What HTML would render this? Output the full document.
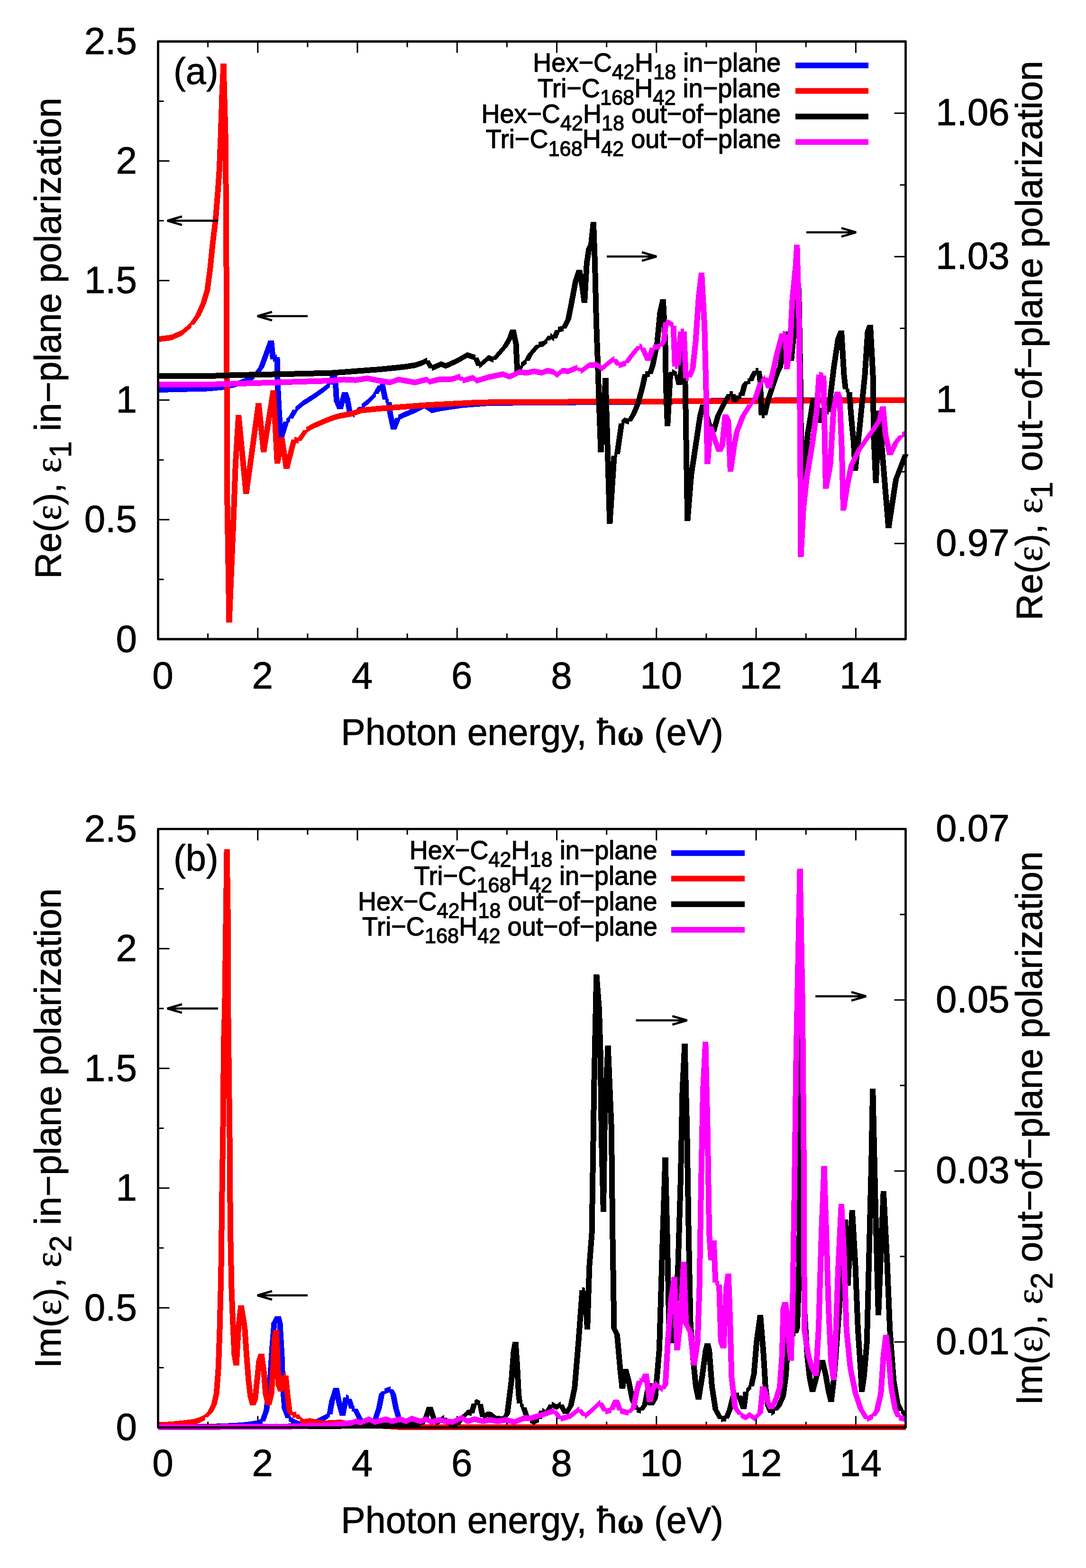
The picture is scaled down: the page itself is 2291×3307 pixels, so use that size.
<!DOCTYPE html><html><head><meta charset="utf-8"><style>html,body{margin:0;padding:0;background:#fff;}svg{display:block;}text{font-family:"Liberation Sans", Arial, Helvetica, sans-serif;fill:#000;stroke:#000;stroke-width:0.9px;}text.lg{stroke-width:1.3px;}</style></head><body>
<svg xmlns="http://www.w3.org/2000/svg" width="2291" height="3307" viewBox="0 0 2291 3307">
<rect width="2291" height="3307" fill="#fff"/>
<path d="M438.6 1348L438.6 1336 M438.6 87.5L438.6 99.5 M543.8 1348L543.8 1324 M543.8 87.5L543.8 111.5 M648.9 1348L648.9 1336 M648.9 87.5L648.9 99.5 M754 1348L754 1324 M754 87.5L754 111.5 M859.2 1348L859.2 1336 M859.2 87.5L859.2 99.5 M964.3 1348L964.3 1324 M964.3 87.5L964.3 111.5 M1069.4 1348L1069.4 1336 M1069.4 87.5L1069.4 99.5 M1174.6 1348L1174.6 1324 M1174.6 87.5L1174.6 111.5 M1279.7 1348L1279.7 1336 M1279.7 87.5L1279.7 99.5 M1384.8 1348L1384.8 1324 M1384.8 87.5L1384.8 111.5 M1490 1348L1490 1336 M1490 87.5L1490 99.5 M1595.1 1348L1595.1 1324 M1595.1 87.5L1595.1 111.5 M1700.2 1348L1700.2 1336 M1700.2 87.5L1700.2 99.5 M1805.4 1348L1805.4 1324 M1805.4 87.5L1805.4 111.5 M333.5 1222L345.5 1222 M333.5 1095.9L357.5 1095.9 M333.5 969.9L345.5 969.9 M333.5 843.8L357.5 843.8 M333.5 717.8L345.5 717.8 M333.5 591.7L357.5 591.7 M333.5 465.6L345.5 465.6 M333.5 339.6L357.5 339.6 M333.5 213.5L345.5 213.5 M1910.5 1146.3L1886.5 1146.3 M1910.5 995.1L1898.5 995.1 M1910.5 843.8L1886.5 843.8 M1910.5 692.5L1898.5 692.5 M1910.5 541.3L1886.5 541.3 M1910.5 390L1898.5 390 M1910.5 238.8L1886.5 238.8" stroke="#000" stroke-width="3" fill="none"/>
<clipPath id="clipa"><rect x="327.5" y="81.5" width="1589.0" height="1272.5"/></clipPath>
<g clip-path="url(#clipa)">
<path d="M333.5 816L440 813.4L440 825.4L333.5 828ZM440 813.4L467.8 810.7L467.8 822.7L440 825.4ZM467.8 810.7L495.6 805L495.6 817L467.8 822.7ZM495.6 805L523.3 795.4L523.3 807.4L495.6 817ZM523.3 795.4L537.2 787L537.2 799L523.3 807.4ZM531.2 793L545.1 775L557.1 775L543.2 793ZM545.1 775L553.4 752.8L565.4 752.8L557.1 775ZM553.4 752.8L566 717.9L578 717.9L565.4 752.8ZM578 717.9L582 758L570 758L566 717.9ZM576 752L584.4 746.8L584.4 758.8L576 764ZM590.4 752.8L591.8 811L579.8 811L578.4 752.8ZM591.8 811L594.6 866.7L582.6 866.7L579.8 811ZM594.6 866.7L598.8 925.4L586.8 925.4L582.6 866.7ZM586.8 925.4L597.9 888.9L609.9 888.9L598.8 925.4ZM603.9 882.9L612.2 877.3L612.2 889.3L603.9 894.9ZM606.2 883.3L617.3 863.9L629.3 863.9L618.2 883.3ZM623.3 857.9L640 844L640 856L623.3 869.9ZM640 844L662.2 830L662.2 842L640 856ZM662.2 830L681.7 816.2L681.7 828.2L662.2 842ZM681.7 816.2L695.6 805L695.6 817L681.7 828.2ZM689.6 811L697.9 788.4L709.9 788.4L701.6 811ZM709.9 788.4L713.5 800.4L701.5 800.4L697.9 788.4ZM713.5 800.4L716 845.5L704 845.5L701.5 800.4ZM716 845.5L723.5 863L711.5 863L704 845.5ZM711.5 863L721.6 826.7L733.6 826.7L723.5 863ZM733.6 826.7L738.6 840.5L726.6 840.5L721.6 826.7ZM738.6 840.5L743.6 868L731.6 868L726.6 840.5ZM737.6 862L747.6 868.6L747.6 880.6L737.6 874ZM741.6 874.6L756.7 858L768.7 858L753.6 874.6ZM762.7 852L775.2 842L775.2 854L762.7 864ZM775.2 842L792.7 824.5L792.7 836.5L775.2 854ZM786.7 830.5L796.8 812.9L808.8 812.9L798.7 830.5ZM802.8 806.9L806.5 804.4L806.5 816.4L802.8 818.9ZM812.5 810.4L818.8 843L806.8 843L800.5 810.4ZM812.8 837L820.3 842L820.3 854L812.8 849ZM826.3 848L828.8 870.5L816.8 870.5L814.3 848ZM828.8 870.5L836.3 905.6L824.3 905.6L816.8 870.5ZM824.3 905.6L834.4 880.6L846.4 880.6L836.3 905.6ZM840.4 874.6L850.4 869.6L850.4 881.6L840.4 886.6ZM850.4 869.6L875.4 859.5L875.4 871.5L850.4 881.6ZM875.4 859.5L895.5 849.5L895.5 861.5L875.4 871.5ZM895.5 849.5L910.5 859.5L910.5 871.5L895.5 861.5ZM910.5 859.5L925.6 855.8L925.6 867.8L910.5 871.5ZM925.6 855.8L950.6 852L950.6 864L925.6 867.8ZM950.6 852L975.7 848.3L975.7 860.3L950.6 864ZM975.7 848.3L1025.8 844.5L1025.8 856.5L975.7 860.3ZM1025.8 844.5L1100 843.2L1100 855.2L1025.8 856.5ZM1100 843.2L1300 842L1300 854L1100 855.2ZM1300 842L1500 839.5L1500 851.5L1300 854ZM1500 839.5L1700 838L1700 850L1500 851.5ZM1700 838L1910.5 837.5L1910.5 849.5L1700 850Z" fill="#0000ff" shape-rendering="crispEdges"/>
<path d="M333.5 709.5L361.2 706L361.2 718L333.5 721.5ZM361.2 706L383.8 696.1L383.8 708.1L361.2 718ZM383.8 696.1L403.5 679.2L403.5 691.2L383.8 708.1ZM397.5 685.2L411.6 665.5L423.6 665.5L409.5 685.2ZM411.6 665.5L422.9 640L434.9 640L423.6 665.5ZM422.9 640L431.4 611.9L443.4 611.9L434.9 640ZM431.4 611.9L437 569.6L449 569.6L443.4 611.9ZM437 569.6L442.7 513.1L454.7 513.1L449 569.6ZM442.7 513.1L448.9 462.4L460.9 462.4L454.7 513.1ZM448.9 462.4L453.9 400.3L465.9 400.3L460.9 462.4ZM453.9 400.3L456.8 358L468.8 358L465.9 400.3ZM456.8 358L459.6 287.5L471.6 287.5L468.8 358ZM459.6 287.5L462.4 202.8L474.4 202.8L471.6 287.5ZM462.4 202.8L465.5 134L477.5 134L474.4 202.8ZM477.5 134L482 300L470 300L465.5 134ZM482 300L484.3 700L472.3 700L470 300ZM484.3 700L485 1033L473 1033L472.3 700ZM485 1033L489.5 1313L477.5 1313L473 1033ZM477.5 1313L486.8 1088.9L498.8 1088.9L489.5 1313ZM486.8 1088.9L490.9 977.8L502.9 977.8L498.8 1088.9ZM490.9 977.8L497.3 875.4L509.3 875.4L502.9 977.8ZM509.3 875.4L525.2 1042.4L513.2 1042.4L497.3 875.4ZM513.2 1042.4L539.6 849.8L551.6 849.8L525.2 1042.4ZM551.6 849.8L562.1 953.5L550.1 953.5L539.6 849.8ZM550.1 953.5L570.7 823.4L582.7 823.4L562.1 953.5ZM582.7 823.4L591 977.9L579 977.9L570.7 823.4ZM579 977.9L588.2 922L600.2 922L591 977.9ZM600.2 922L610.4 989L598.4 989L588.2 922ZM598.4 989L614.6 926.7L626.6 926.7L610.4 989ZM620.6 920.7L630 924L630 936L620.6 932.7ZM624 930L639.6 907L651.6 907L636 930ZM645.6 901L662.2 891.8L662.2 903.8L645.6 913ZM662.2 891.8L690 880L690 892L662.2 903.8ZM690 880L700 876L700 888L690 892ZM700 876L717 871L717 883L700 888ZM717 871L740 867L740 879L717 883ZM740 867L762.7 859.5L762.7 871.5L740 879ZM762.7 859.5L800.3 855.8L800.3 867.8L762.7 871.5ZM800.3 855.8L850.4 852L850.4 864L800.3 867.8ZM850.4 852L900.5 848.3L900.5 860.3L850.4 864ZM900.5 848.3L950.6 845.8L950.6 857.8L900.5 860.3ZM950.6 845.8L1000.8 843.2L1000.8 855.2L950.6 857.8ZM1000.8 843.2L1050.9 842L1050.9 854L1000.8 855.2ZM1050.9 842L1100 842L1100 854L1050.9 854ZM1100 842L1300 841L1300 853L1100 854ZM1300 841L1500 840L1500 852L1300 853ZM1500 840L1700 839L1700 851L1500 852ZM1700 839L1910.5 838L1910.5 850L1700 851Z" fill="#ff0000" shape-rendering="crispEdges"/>
<path d="M333.5 787L440 787L440 799L333.5 799ZM440 787L500 785L500 797L440 799ZM500 785L600 783L600 795L500 797ZM600 783L700 780.6L700 792.6L600 795ZM700 780.6L750.1 776.8L750.1 788.8L700 792.6ZM750.1 776.8L800.3 773.1L800.3 785.1L750.1 788.8ZM800.3 773.1L850.4 768L850.4 780L800.3 785.1ZM850.4 768L875.4 764.3L875.4 776.3L850.4 780ZM875.4 764.3L890.5 759.3L890.5 771.3L875.4 776.3ZM890.5 759.3L900.5 754.3L900.5 766.3L890.5 771.3ZM906.5 760.3L916.5 776.6L904.5 776.6L894.5 760.3ZM910.5 770.6L930.6 762L930.6 774L910.5 782.6ZM930.6 762L940.6 765.8L940.6 777.8L930.6 774ZM940.6 765.8L965.7 754.3L965.7 766.3L940.6 777.8ZM965.7 754.3L985.7 742.7L985.7 754.7L965.7 766.3ZM985.7 742.7L998.2 746.8L998.2 758.8L985.7 754.7ZM998.2 746.8L1003.3 748L1003.3 760L998.2 758.8ZM1009.3 754L1016.8 771.8L1004.8 771.8L997.3 754ZM1010.8 765.8L1030.8 748.5L1030.8 760.5L1010.8 777.8ZM1030.8 748.5L1040.9 752.8L1040.9 764.8L1030.8 760.5ZM1034.9 758.8L1059.9 730.2L1071.9 730.2L1046.9 758.8ZM1059.9 730.2L1069.9 712.7L1081.9 712.7L1071.9 730.2ZM1069.9 712.7L1076.2 694.6L1088.2 694.6L1081.9 712.7ZM1088.2 694.6L1094.5 725.2L1082.5 725.2L1076.2 694.6ZM1094.5 725.2L1097.5 788L1085.5 788L1082.5 725.2ZM1085.5 788L1092.8 770.6L1104.8 770.6L1097.5 788ZM1098.8 764.6L1111.3 755.3L1111.3 767.3L1098.8 776.6ZM1105.3 761.3L1111.5 748.8L1123.5 748.8L1117.3 761.3ZM1111.5 748.8L1130.3 726.9L1142.3 726.9L1123.5 748.8ZM1136.3 720.9L1145.6 719.3L1145.6 731.3L1136.3 732.9ZM1145.6 719.3L1155 711.5L1155 723.5L1145.6 731.3ZM1149 717.5L1155.3 708.1L1167.3 708.1L1161 717.5ZM1161.3 702.1L1169 708.4L1169 720.4L1161.3 714.1ZM1163 714.4L1170.9 695.6L1182.9 695.6L1175 714.4ZM1176.9 689.6L1183 688L1183 700L1176.9 701.6ZM1183 688L1189.4 686.5L1189.4 698.5L1183 700ZM1183.4 692.5L1192.8 673.8L1204.8 673.8L1195.4 692.5ZM1192.8 673.8L1199 642.5L1211 642.5L1204.8 673.8ZM1199 642.5L1208.4 592.5L1220.4 592.5L1211 642.5ZM1208.4 592.5L1216.2 569L1228.2 569L1220.4 592.5ZM1228.2 569L1234.4 605L1222.4 605L1216.2 569ZM1234.4 605L1239 639.4L1227 639.4L1222.4 605ZM1227 639.4L1231.8 555L1243.8 555L1239 639.4ZM1231.8 555L1236.5 523.8L1248.5 523.8L1243.8 555ZM1236.5 523.8L1241.2 514.4L1253.2 514.4L1248.5 523.8ZM1241.2 514.4L1245.9 468L1257.9 468L1253.2 514.4ZM1257.9 468L1261 555L1249 555L1245.9 468ZM1261 555L1264 680L1252 680L1249 555ZM1264 680L1267.3 773.8L1255.3 773.8L1252 680ZM1267.3 773.8L1270.4 867.5L1258.4 867.5L1255.3 773.8ZM1270.4 867.5L1273.5 953.5L1261.5 953.5L1258.4 867.5ZM1261.5 953.5L1271.5 797.1L1283.5 797.1L1273.5 953.5ZM1283.5 797.1L1292.3 1105L1280.3 1105L1271.5 797.1ZM1280.3 1105L1289.6 961.3L1301.6 961.3L1292.3 1105ZM1295.6 955.3L1301.9 952L1301.9 964L1295.6 967.3ZM1295.9 958L1305.3 892.5L1317.3 892.5L1307.9 958ZM1311.3 886.5L1317.5 880.3L1317.5 892.3L1311.3 898.5ZM1317.5 880.3L1326.9 883.4L1326.9 895.4L1317.5 892.3ZM1320.9 889.4L1330.3 873.8L1342.3 873.8L1332.9 889.4ZM1330.3 873.8L1339.6 851.9L1351.6 851.9L1342.3 873.8ZM1339.6 851.9L1349 817.5L1361 817.5L1351.6 851.9ZM1349 817.5L1355.3 789.4L1367.3 789.4L1361 817.5ZM1361.3 783.4L1370.6 783.4L1370.6 795.4L1361.3 795.4ZM1364.6 789.4L1370.9 770.6L1382.9 770.6L1376.6 789.4ZM1370.9 770.6L1380.3 723.8L1392.3 723.8L1382.9 770.6ZM1380.3 723.8L1386.5 658.8L1398.5 658.8L1392.3 723.8ZM1386.5 658.8L1392.8 631.2L1404.8 631.2L1398.5 658.8ZM1404.8 631.2L1409.4 721.3L1397.4 721.3L1392.8 631.2ZM1409.4 721.3L1411 815L1399 815L1397.4 721.3ZM1411 815L1414.1 899.4L1402.1 899.4L1399 815ZM1402.1 899.4L1408 790L1420 790L1414.1 899.4ZM1408 790L1412 784L1424 784L1420 790ZM1418 778L1428 784L1428 796L1418 790ZM1434 790L1439 812L1427 812L1422 790ZM1427 812L1431 780L1443 780L1439 812ZM1431 780L1434 715L1446 715L1443 780ZM1440 709L1443 706L1443 718L1440 721ZM1449 712L1452 830L1440 830L1437 712ZM1452 830L1454 960L1442 960L1440 830ZM1454 960L1456.3 1099.4L1444.3 1099.4L1442 960ZM1444.3 1099.4L1452.1 1002.5L1464.1 1002.5L1456.3 1099.4ZM1452.1 1002.5L1461.5 940L1473.5 940L1464.1 1002.5ZM1461.5 940L1470.9 877.5L1482.9 877.5L1473.5 940ZM1470.9 877.5L1477.1 852.8L1489.1 852.8L1482.9 877.5ZM1489.1 852.8L1501.6 893.1L1489.6 893.1L1477.1 852.8ZM1501.6 893.1L1511 911.6L1499 911.6L1489.6 893.1ZM1499 911.6L1508.4 877.5L1520.4 877.5L1511 911.6ZM1508.4 877.5L1520.9 852.5L1532.9 852.5L1520.4 877.5ZM1520.9 852.5L1533.4 830.6L1545.4 830.6L1532.9 852.5ZM1539.4 824.6L1545.6 824.6L1545.6 836.6L1539.4 836.6ZM1551.6 830.6L1556.3 847.6L1544.3 847.6L1539.6 830.6ZM1544.3 847.6L1552.1 833.8L1564.1 833.8L1556.3 847.6ZM1558.1 827.8L1564.4 829.3L1564.4 841.3L1558.1 839.8ZM1558.4 835.3L1564.6 811.9L1576.6 811.9L1570.4 835.3ZM1564.6 811.9L1570.9 804L1582.9 804L1576.6 811.9ZM1576.9 798L1583.1 798L1583.1 810L1576.9 810ZM1577.1 804L1581.8 793.1L1593.8 793.1L1589.1 804ZM1581.8 793.1L1588.1 782.2L1600.1 782.2L1593.8 793.1ZM1594.1 776.2L1600.3 776.2L1600.3 788.2L1594.1 788.2ZM1606.3 782.2L1609.4 799.4L1597.4 799.4L1594.3 782.2ZM1609.4 799.4L1612.6 875.9L1600.6 875.9L1597.4 799.4ZM1606.6 869.9L1612.8 869.9L1612.8 881.9L1606.6 881.9ZM1606.8 875.9L1614.6 843.1L1626.6 843.1L1618.8 875.9ZM1614.6 843.1L1624 815L1636 815L1626.6 843.1ZM1624 815L1633.4 786.9L1645.4 786.9L1636 815ZM1633.4 786.9L1639.6 774.4L1651.6 774.4L1645.4 786.9ZM1639.6 774.4L1653.9 699.4L1665.9 699.4L1651.6 774.4ZM1665.9 699.4L1675.2 760.7L1663.2 760.7L1653.9 699.4ZM1663.2 760.7L1671.5 670.2L1683.5 670.2L1675.2 760.7ZM1671.5 670.2L1679 608L1691 608L1683.5 670.2ZM1691 608L1694.5 800L1682.5 800L1679 608ZM1694.5 800L1697 1028L1685 1028L1682.5 800ZM1685 1028L1698.4 911.8L1710.4 911.8L1697 1028ZM1698.4 911.8L1710.2 840.1L1722.2 840.1L1710.4 911.8ZM1722.2 840.1L1733.5 892.3L1721.5 892.3L1710.2 840.1ZM1721.5 892.3L1729 860L1741 860L1733.5 892.3ZM1735 854L1747.8 862.8L1747.8 874.8L1735 866ZM1741.8 868.8L1752.8 776.9L1764.8 776.9L1753.8 868.8ZM1752.8 776.9L1762.1 714.4L1774.1 714.4L1764.8 776.9ZM1762.1 714.4L1769 697.1L1781 697.1L1774.1 714.4ZM1781 697.1L1786.6 792.5L1774.6 792.5L1769 697.1ZM1786.6 792.5L1789.8 820.6L1777.8 820.6L1774.6 792.5ZM1783.8 814.6L1791.6 820.9L1791.6 832.9L1783.8 826.6ZM1797.6 826.9L1802.3 886.3L1790.3 886.3L1785.6 826.9ZM1802.3 886.3L1806.9 933.1L1794.9 933.1L1790.3 886.3ZM1806.9 933.1L1810.1 992.6L1798.1 992.6L1794.9 933.1ZM1798.1 992.6L1809 886.3L1821 886.3L1810.1 992.6ZM1809 886.3L1818.4 792.5L1830.4 792.5L1821 886.3ZM1818.4 792.5L1824.6 698.8L1836.6 698.8L1830.4 792.5ZM1824.6 698.8L1829.9 684.6L1841.9 684.6L1836.6 698.8ZM1841.9 684.6L1847.6 792.5L1835.6 792.5L1829.9 684.6ZM1847.6 792.5L1849.1 917.5L1837.1 917.5L1835.6 792.5ZM1849.1 917.5L1853.8 1019.1L1841.8 1019.1L1837.1 917.5ZM1841.8 1019.1L1848 866L1860 866L1853.8 1019.1ZM1860 866L1880.4 1114.4L1868.4 1114.4L1848 866ZM1868.4 1114.4L1884 1011.3L1896 1011.3L1880.4 1114.4ZM1884 1011.3L1904.5 958L1916.5 958L1896 1011.3Z" fill="#000000" shape-rendering="crispEdges"/>
<path d="M333.5 805L440 805L440 817L333.5 817ZM440 805L600 800L600 812L440 817ZM600 800L700 796.9L700 808.9L600 812ZM700 796.9L725 794.4L725 806.4L700 808.9ZM725 794.4L750.1 795.6L750.1 807.6L725 806.4ZM750.1 795.6L775.2 791.9L775.2 803.9L750.1 807.6ZM775.2 791.9L800.3 796.9L800.3 808.9L775.2 803.9ZM800.3 796.9L822.8 800.6L822.8 812.6L800.3 808.9ZM822.8 800.6L840.4 794.4L840.4 806.4L822.8 812.6ZM840.4 794.4L875.4 800.6L875.4 812.6L840.4 806.4ZM875.4 800.6L900.5 794.4L900.5 806.4L875.4 812.6ZM900.5 794.4L905.5 799.4L905.5 811.4L900.5 806.4ZM905.5 799.4L925.6 794.4L925.6 806.4L905.5 811.4ZM925.6 794.4L950.6 794.4L950.6 806.4L925.6 806.4ZM950.6 794.4L970.7 788.1L970.7 800.1L950.6 806.4ZM976.7 794.1L981.7 802.9L969.7 802.9L964.7 794.1ZM975.7 796.9L998.2 790.6L998.2 802.6L975.7 808.9ZM998.2 790.6L1005.8 796.9L1005.8 808.9L998.2 802.6ZM1005.8 796.9L1030.8 789.4L1030.8 801.4L1005.8 808.9ZM1030.8 789.4L1060.9 783.1L1060.9 795.1L1030.8 801.4ZM1060.9 783.1L1073.4 788.1L1073.4 800.1L1060.9 795.1ZM1073.4 788.1L1080 786.5L1080 798.5L1073.4 800.1ZM1080 786.5L1095.6 778.7L1095.6 790.7L1080 798.5ZM1095.6 778.7L1111.3 780.3L1111.3 792.3L1095.6 790.7ZM1111.3 780.3L1126.9 777.1L1126.9 789.1L1111.3 792.3ZM1126.9 777.1L1142.5 780.3L1142.5 792.3L1126.9 789.1ZM1142.5 780.3L1155 775.6L1155 787.6L1142.5 792.3ZM1155 775.6L1167.5 778.7L1167.5 790.7L1155 787.6ZM1167.5 778.7L1175.3 784.9L1175.3 796.9L1167.5 790.7ZM1175.3 784.9L1186.3 775.6L1186.3 787.6L1175.3 796.9ZM1186.3 775.6L1198.8 777.1L1198.8 789.1L1186.3 787.6ZM1198.8 777.1L1217.5 769.3L1217.5 781.3L1198.8 789.1ZM1223.5 775.3L1231.3 783.1L1219.3 783.1L1211.5 775.3ZM1225.3 777.1L1242.5 764.6L1242.5 776.6L1225.3 789.1ZM1242.5 764.6L1258.1 763.1L1258.1 775.1L1242.5 776.6ZM1258.1 763.1L1270.6 770.9L1270.6 782.9L1258.1 775.1ZM1270.6 770.9L1283.1 759.9L1283.1 771.9L1270.6 782.9ZM1283.1 759.9L1295.6 750.6L1295.6 762.6L1283.1 771.9ZM1301.6 756.6L1311 770.6L1299 770.6L1289.6 756.6ZM1305 764.6L1320.6 759.9L1320.6 771.9L1305 776.6ZM1314.6 765.9L1327.1 748.8L1339.1 748.8L1326.6 765.9ZM1327.1 748.8L1342.8 730L1354.8 730L1339.1 748.8ZM1348.8 724L1355 727.1L1355 739.1L1348.8 736ZM1361 733.1L1373.5 761L1361.5 761L1349 733.1ZM1361.5 761L1370.9 733.1L1382.9 733.1L1373.5 761ZM1376.9 727.1L1392.5 724.6L1392.5 736.6L1376.9 739.1ZM1386.5 730.6L1394.3 721.3L1406.3 721.3L1398.5 730.6ZM1394.3 721.3L1399 678.8L1411 678.8L1406.3 721.3ZM1405 672.8L1411.3 674.6L1411.3 686.6L1405 684.8ZM1411.3 674.6L1420.6 680.9L1420.6 692.9L1411.3 686.6ZM1426.6 686.9L1429.8 773.1L1417.8 773.1L1414.6 686.9ZM1423.8 767.1L1430 765.3L1430 777.3L1423.8 779.1ZM1424 771.3L1430.3 699L1442.3 699L1436 771.3ZM1436.3 693L1442.5 693L1442.5 705L1436.3 705ZM1448.5 699L1453.2 798.1L1441.2 798.1L1436.5 699ZM1447.2 792.1L1453.4 790.3L1453.4 802.3L1447.2 804.1ZM1447.4 796.3L1455.3 777.5L1467.3 777.5L1459.4 796.3ZM1455.3 777.5L1461.5 721.3L1473.5 721.3L1467.3 777.5ZM1461.5 721.3L1467.8 627.5L1479.8 627.5L1473.5 721.3ZM1467.8 627.5L1474 574.9L1486 574.9L1479.8 627.5ZM1486 574.9L1492.3 690L1480.3 690L1474 574.9ZM1492.3 690L1495.4 815L1483.4 815L1480.3 690ZM1495.4 815L1496.9 908.8L1484.9 908.8L1483.4 815ZM1496.9 908.8L1498.5 979.1L1486.5 979.1L1484.9 908.8ZM1486.5 979.1L1492.8 899.3L1504.8 899.3L1498.5 979.1ZM1504.8 899.3L1514.1 927.5L1502.1 927.5L1492.8 899.3ZM1514.1 927.5L1523.5 952.9L1511.5 952.9L1502.1 927.5ZM1511.5 952.9L1517.8 940L1529.8 940L1523.5 952.9ZM1517.8 940L1524 874.3L1536 874.3L1529.8 940ZM1536 874.3L1542.3 886.9L1530.3 886.9L1524 874.3ZM1542.3 886.9L1546.9 994.8L1534.9 994.8L1530.3 886.9ZM1534.9 994.8L1542.8 940L1554.8 940L1546.9 994.8ZM1542.8 940L1549 908.8L1561 908.8L1554.8 940ZM1549 908.8L1561.5 877.5L1573.5 877.5L1561 908.8ZM1561.5 877.5L1577.1 852.5L1589.1 852.5L1573.5 877.5ZM1583.1 846.5L1592.5 837.1L1592.5 849.1L1583.1 858.5ZM1586.5 843.1L1599 805.6L1611 805.6L1598.5 843.1ZM1605 799.6L1614.4 790.3L1614.4 802.3L1605 811.6ZM1620.4 796.3L1628.2 819.4L1616.2 819.4L1608.4 796.3ZM1616.2 819.4L1624 786.9L1636 786.9L1628.2 819.4ZM1624 786.9L1632.8 747.6L1644.8 747.6L1636 786.9ZM1632.8 747.6L1644.5 703.3L1656.5 703.3L1644.8 747.6ZM1650.5 697.3L1657.5 699.4L1657.5 711.4L1650.5 709.3ZM1663.5 705.4L1665.9 779.2L1653.9 779.2L1651.5 705.4ZM1653.9 779.2L1660.9 724.2L1672.9 724.2L1665.9 779.2ZM1660.9 724.2L1665.6 630.4L1677.6 630.4L1672.9 724.2ZM1665.6 630.4L1672.6 560L1684.6 560L1677.6 630.4ZM1672.6 560L1675.3 515.9L1687.3 515.9L1684.6 560ZM1687.3 515.9L1691.7 677.3L1679.7 677.3L1675.3 515.9ZM1691.7 677.3L1692.8 794.5L1680.8 794.5L1679.7 677.3ZM1692.8 794.5L1694 911.8L1682 911.8L1680.8 794.5ZM1694 911.8L1695.4 1175.4L1683.4 1175.4L1682 911.8ZM1683.4 1175.4L1688.7 1073.8L1700.7 1073.8L1695.4 1175.4ZM1688.7 1073.8L1696.1 1005.6L1708.1 1005.6L1700.7 1073.8ZM1696.1 1005.6L1707.8 935.2L1719.8 935.2L1708.1 1005.6ZM1707.8 935.2L1717.2 864.9L1729.2 864.9L1719.8 935.2ZM1717.2 864.9L1721.9 790L1733.9 790L1729.2 864.9ZM1727.9 784L1737.3 786.2L1737.3 798.2L1727.9 796ZM1743.3 792.2L1745.6 911.8L1733.6 911.8L1731.3 792.2ZM1745.6 911.8L1748 1031.3L1736 1031.3L1733.6 911.8ZM1736 1031.3L1745.3 982.1L1757.3 982.1L1748 1031.3ZM1745.3 982.1L1752.4 864.9L1764.4 864.9L1757.3 982.1ZM1752.4 864.9L1760.6 826.2L1772.6 826.2L1764.4 864.9ZM1772.6 826.2L1777.3 839.4L1765.3 839.4L1760.6 826.2ZM1777.3 839.4L1781.9 948.8L1769.9 948.8L1765.3 839.4ZM1781.9 948.8L1785.1 1076.9L1773.1 1076.9L1769.9 948.8ZM1773.1 1076.9L1780.9 1026.9L1792.9 1026.9L1785.1 1076.9ZM1780.9 1026.9L1790.3 980L1802.3 980L1792.9 1026.9ZM1790.3 980L1805.9 948.8L1817.9 948.8L1802.3 980ZM1805.9 948.8L1821.5 926.9L1833.5 926.9L1817.9 948.8ZM1821.5 926.9L1837.1 905L1849.1 905L1833.5 926.9ZM1837.1 905L1849.6 886.3L1861.6 886.3L1849.1 905ZM1849.6 886.3L1856.5 856.5L1868.5 856.5L1861.6 886.3ZM1868.5 856.5L1874.1 917.5L1862.1 917.5L1856.5 856.5ZM1874.1 917.5L1883.5 959.8L1871.5 959.8L1862.1 917.5ZM1871.5 959.8L1884 933.1L1896 933.1L1883.5 959.8ZM1884 933.1L1896.5 917.5L1908.5 917.5L1896 933.1ZM1902.5 911.5L1910.5 908L1910.5 920L1902.5 923.5Z" fill="#ff00ff" shape-rendering="crispEdges"/>
</g>
<rect x="333.5" y="87.5" width="1577.0" height="1260.5" fill="none" stroke="#000" stroke-width="4.8" stroke-linejoin="round"/>
<text x="289" y="1374.5" font-size="80" text-anchor="end" >0</text>
<text x="289" y="1122.4" font-size="80" text-anchor="end" >0.5</text>
<text x="289" y="870.3" font-size="80" text-anchor="end" >1</text>
<text x="289" y="618.2" font-size="80" text-anchor="end" >1.5</text>
<text x="289" y="366.1" font-size="80" text-anchor="end" >2</text>
<text x="289" y="114" font-size="80" text-anchor="end" >2.5</text>
<text x="343.5" y="1451.5" font-size="80" text-anchor="middle" >0</text>
<text x="553.8" y="1451.5" font-size="80" text-anchor="middle" >2</text>
<text x="764" y="1451.5" font-size="80" text-anchor="middle" >4</text>
<text x="974.3" y="1451.5" font-size="80" text-anchor="middle" >6</text>
<text x="1184.6" y="1451.5" font-size="80" text-anchor="middle" >8</text>
<text x="1394.8" y="1451.5" font-size="80" text-anchor="middle" >10</text>
<text x="1605.1" y="1451.5" font-size="80" text-anchor="middle" >12</text>
<text x="1815.4" y="1451.5" font-size="80" text-anchor="middle" >14</text>
<text x="1974" y="1171.8" font-size="80" text-anchor="start" >0.97</text>
<text x="1974" y="869.3" font-size="80" text-anchor="start" >1</text>
<text x="1974" y="566.8" font-size="80" text-anchor="start" >1.03</text>
<text x="1974" y="264.3" font-size="80" text-anchor="start" >1.06</text>
<text transform="translate(719.26 1570.5) scale(0.9909 1)" font-size="78" xml:space="preserve">Photon energy, ħ<tspan font-family='"Liberation Serif", "Times New Roman", serif' font-weight="bold">ω</tspan> (eV)</text>
<text transform="translate(128 1220.47) rotate(-90) scale(0.9797 1)" font-size="78" xml:space="preserve">Re(<tspan font-family='"Liberation Serif", "Times New Roman", serif'>ε</tspan>), <tspan font-family='"Liberation Serif", "Times New Roman", serif'>ε</tspan><tspan font-size="64" dy="22">1</tspan><tspan dy="-22"> in−plane polarization</tspan></text>
<text transform="translate(2198 1308.52) rotate(-90) scale(0.9890 1)" font-size="78" xml:space="preserve">Re(<tspan font-family='"Liberation Serif", "Times New Roman", serif'>ε</tspan>), <tspan font-family='"Liberation Serif", "Times New Roman", serif'>ε</tspan><tspan font-size="64" dy="22">1</tspan><tspan dy="-22"> out−of−plane polarization</tspan></text>
<text x="366" y="176.5" font-size="77.5" text-anchor="start" >(a)</text>
<path d="M438.6 3010.6L438.6 2998.6 M438.6 1748.4L438.6 1760.4 M543.8 3010.6L543.8 2986.6 M543.8 1748.4L543.8 1772.4 M648.9 3010.6L648.9 2998.6 M648.9 1748.4L648.9 1760.4 M754 3010.6L754 2986.6 M754 1748.4L754 1772.4 M859.2 3010.6L859.2 2998.6 M859.2 1748.4L859.2 1760.4 M964.3 3010.6L964.3 2986.6 M964.3 1748.4L964.3 1772.4 M1069.4 3010.6L1069.4 2998.6 M1069.4 1748.4L1069.4 1760.4 M1174.6 3010.6L1174.6 2986.6 M1174.6 1748.4L1174.6 1772.4 M1279.7 3010.6L1279.7 2998.6 M1279.7 1748.4L1279.7 1760.4 M1384.8 3010.6L1384.8 2986.6 M1384.8 1748.4L1384.8 1772.4 M1490 3010.6L1490 2998.6 M1490 1748.4L1490 1760.4 M1595.1 3010.6L1595.1 2986.6 M1595.1 1748.4L1595.1 1772.4 M1700.2 3010.6L1700.2 2998.6 M1700.2 1748.4L1700.2 1760.4 M1805.4 3010.6L1805.4 2986.6 M1805.4 1748.4L1805.4 1772.4 M333.5 2884.4L345.5 2884.4 M333.5 2758.2L357.5 2758.2 M333.5 2631.9L345.5 2631.9 M333.5 2505.7L357.5 2505.7 M333.5 2379.5L345.5 2379.5 M333.5 2253.3L357.5 2253.3 M333.5 2127.1L345.5 2127.1 M333.5 2000.8L357.5 2000.8 M333.5 1874.6L345.5 1874.6 M1910.5 2830.3L1886.5 2830.3 M1910.5 2650L1898.5 2650 M1910.5 2469.7L1886.5 2469.7 M1910.5 2289.3L1898.5 2289.3 M1910.5 2109L1886.5 2109 M1910.5 1928.7L1898.5 1928.7" stroke="#000" stroke-width="3" fill="none"/>
<clipPath id="clipb"><rect x="327.5" y="1742.4" width="1589.0" height="1274.1999999999998"/></clipPath>
<g clip-path="url(#clipb)">
<path d="M333.5 3003.5L456.8 3002.5L456.8 3014.5L333.5 3015.5ZM456.8 3002.5L494.5 3001L494.5 3013L456.8 3014.5ZM494.5 3001L521.4 2999L521.4 3011L494.5 3013ZM521.4 2999L542.9 2995.5L542.9 3007.5L521.4 3011ZM542.9 2995.5L553.7 2991.5L553.7 3003.5L542.9 3007.5ZM547.7 2997.5L556 2975L568 2975L559.7 2997.5ZM556 2975L560.4 2940.9L572.4 2940.9L568 2975ZM560.4 2940.9L564.4 2900.8L576.4 2900.8L572.4 2940.9ZM564.4 2900.8L568.4 2840.6L580.4 2840.6L576.4 2900.8ZM568.4 2840.6L572.4 2790.5L584.4 2790.5L580.4 2840.6ZM572.4 2790.5L580.5 2775.5L592.5 2775.5L584.4 2790.5ZM592.5 2775.5L596.5 2790.5L584.5 2790.5L580.5 2775.5ZM596.5 2790.5L600.5 2860.7L588.5 2860.7L584.5 2790.5ZM600.5 2860.7L602.5 2920.8L590.5 2920.8L588.5 2860.7ZM602.5 2920.8L606.5 2970.9L594.5 2970.9L590.5 2920.8ZM606.5 2970.9L614.5 2991L602.5 2991L594.5 2970.9ZM608.5 2985L620.6 2993L620.6 3005L608.5 2997ZM620.6 2993L630.6 2997L630.6 3009L620.6 3005ZM630.6 2997L660 2996L660 3008L630.6 3009ZM660 2996L676.1 2988.6L676.1 3000.6L660 3008ZM676.1 2988.6L688.1 2982.6L688.1 2994.6L676.1 3000.6ZM688.1 2982.6L695.6 2976.6L695.6 2988.6L688.1 2994.6ZM689.6 2982.6L694.2 2955.5L706.2 2955.5L701.6 2982.6ZM694.2 2955.5L703.2 2926.9L715.2 2926.9L706.2 2955.5ZM715.2 2926.9L722.7 2964.5L710.7 2964.5L703.2 2926.9ZM722.7 2964.5L728.7 2985.5L716.7 2985.5L710.7 2964.5ZM716.7 2985.5L724.2 2946.5L736.2 2946.5L728.7 2985.5ZM730.2 2940.5L736 2944L736 2956L730.2 2952.5ZM742 2950L748.3 2970.5L736.3 2970.5L730 2950ZM742.3 2964.5L748.3 2964.5L748.3 2976.5L742.3 2976.5ZM754.3 2970.5L760.3 2982.6L748.3 2982.6L742.3 2970.5ZM760.3 2982.6L766.3 2994.6L754.3 2994.6L748.3 2982.6ZM760.3 2988.6L766.3 2991.6L766.3 3003.6L760.3 3000.6ZM766.3 2991.6L790.4 2991.6L790.4 3003.6L766.3 3003.6ZM784.4 2997.6L793.4 2970.5L805.4 2970.5L796.4 2997.6ZM793.4 2970.5L799.4 2940.5L811.4 2940.5L805.4 2970.5ZM799.4 2940.5L805.4 2934.4L817.4 2934.4L811.4 2940.5ZM811.4 2928.4L823.5 2923.9L823.5 2935.9L811.4 2940.4ZM829.5 2929.9L835.5 2940.5L823.5 2940.5L817.5 2929.9ZM835.5 2940.5L841.5 2970.5L829.5 2970.5L823.5 2940.5ZM841.5 2970.5L847.5 2991.6L835.5 2991.6L829.5 2970.5ZM841.5 2985.6L850.5 2991.6L850.5 3003.6L841.5 2997.6ZM850.5 2991.6L868.6 2998L868.6 3010L850.5 3003.6ZM868.6 2998L900 3004.4L900 3016.4L868.6 3010ZM900 3004.4L1910.5 3004.4L1910.5 3016.4L900 3016.4Z" fill="#0000ff" shape-rendering="crispEdges"/>
<path d="M333.5 2999.5L359.9 2998.2L359.9 3010.2L333.5 3011.5ZM359.9 2998.2L386.8 2995.5L386.8 3007.5L359.9 3010.2ZM386.8 2995.5L408.4 2992.8L408.4 3004.8L386.8 3007.5ZM408.4 2992.8L421.8 2988.8L421.8 3000.8L408.4 3004.8ZM421.8 2988.8L432.6 2983.4L432.6 2995.4L421.8 3000.8ZM426.6 2989.4L437.3 2978.6L449.3 2978.6L438.6 2989.4ZM437.3 2978.6L445.4 2962.5L457.4 2962.5L449.3 2978.6ZM445.4 2962.5L450.8 2938.3L462.8 2938.3L457.4 2962.5ZM450.8 2938.3L454.8 2884.4L466.8 2884.4L462.8 2938.3ZM454.8 2884.4L457.5 2803.7L469.5 2803.7L466.8 2884.4ZM457.5 2803.7L460.2 2696L472.2 2696L469.5 2803.7ZM460.2 2696L461.6 2588.4L473.6 2588.4L472.2 2696ZM461.6 2588.4L462.9 2480.7L474.9 2480.7L473.6 2588.4ZM462.9 2480.7L464.3 2400L476.3 2400L474.9 2480.7ZM464.3 2400L466.1 2200L478.1 2200L476.3 2400ZM466.1 2200L468.3 2121L480.3 2121L478.1 2200ZM468.3 2121L470.5 1950L482.5 1950L480.3 2121ZM470.5 1950L472.6 1791L484.6 1791L482.5 1950ZM484.6 1791L487 1950L475 1950L472.6 1791ZM487 1950L487.2 2121L475.2 2121L475 1950ZM487.2 2121L490.5 2400L478.5 2400L475.2 2121ZM490.5 2400L491.9 2588.4L479.9 2588.4L478.5 2400ZM491.9 2588.4L494.6 2723L482.6 2723L479.9 2588.4ZM494.6 2723L497.9 2803.7L485.9 2803.7L482.6 2723ZM497.9 2803.7L500.5 2857.5L488.5 2857.5L485.9 2803.7ZM500.5 2857.5L504.5 2880.4L492.5 2880.4L488.5 2857.5ZM492.5 2880.4L497 2800L509 2800L504.5 2880.4ZM497 2800L502.5 2752.5L514.5 2752.5L509 2800ZM514.5 2752.5L522.3 2800.5L510.3 2800.5L502.5 2752.5ZM522.3 2800.5L526.3 2860.7L514.3 2860.7L510.3 2800.5ZM526.3 2860.7L530.3 2910.8L518.3 2910.8L514.3 2860.7ZM530.3 2910.8L534.3 2944.9L522.3 2944.9L518.3 2910.8ZM534.3 2944.9L539.3 2963.9L527.3 2963.9L522.3 2944.9ZM527.3 2963.9L532.3 2950.9L544.3 2950.9L539.3 2963.9ZM532.3 2950.9L536.4 2910.8L548.4 2910.8L544.3 2950.9ZM536.4 2910.8L540.4 2870.7L552.4 2870.7L548.4 2910.8ZM540.4 2870.7L545.4 2854.7L557.4 2854.7L552.4 2870.7ZM557.4 2854.7L562.4 2890.7L550.4 2890.7L545.4 2854.7ZM562.4 2890.7L566.4 2940.9L554.4 2940.9L550.4 2890.7ZM566.4 2940.9L572.4 2963.9L560.4 2963.9L554.4 2940.9ZM560.4 2963.9L566.4 2940.9L578.4 2940.9L572.4 2963.9ZM566.4 2940.9L570.4 2880.7L582.4 2880.7L578.4 2940.9ZM570.4 2880.7L573.4 2820.6L585.4 2820.6L582.4 2880.7ZM573.4 2820.6L576.5 2804.5L588.5 2804.5L585.4 2820.6ZM588.5 2804.5L591.5 2860.7L579.5 2860.7L576.5 2804.5ZM591.5 2860.7L593.5 2920.8L581.5 2920.8L579.5 2860.7ZM593.5 2920.8L598.5 2934.8L586.5 2934.8L581.5 2920.8ZM586.5 2934.8L591.5 2900.8L603.5 2900.8L598.5 2934.8ZM597.5 2894.8L602.5 2894.8L602.5 2906.8L597.5 2906.8ZM608.5 2900.8L612.5 2940.9L600.5 2940.9L596.5 2900.8ZM612.5 2940.9L616.5 2974.9L604.5 2974.9L600.5 2940.9ZM616.5 2974.9L622.5 2985L610.5 2985L604.5 2974.9ZM616.5 2979L624.6 2977L624.6 2989L616.5 2991ZM630.6 2983L638.6 2993L626.6 2993L618.6 2983ZM632.6 2987L640.6 2993L640.6 3005L632.6 2999ZM640.6 2993L652.6 2991L652.6 3003L640.6 3005ZM652.6 2991L664.7 2993L664.7 3005L652.6 3003ZM664.7 2993L680.7 2996L680.7 3008L664.7 3005ZM680.7 2996L700.8 2995L700.8 3007L680.7 3008ZM700.8 2995L720 2994L720 3006L700.8 3007ZM720 2994L730.2 2996.1L730.2 3008.1L720 3006ZM730.2 2996.1L745.3 2997.6L745.3 3009.6L730.2 3008.1ZM745.3 2997.6L800 3001L800 3013L745.3 3009.6ZM800 3001L850 3004.2L850 3016.2L800 3013ZM850 3004.2L1910.5 3004.4L1910.5 3016.4L850 3016.2Z" fill="#ff0000" shape-rendering="crispEdges"/>
<path d="M333.5 3004L700 3002L700 3014L333.5 3016ZM700 3002L780 3000L780 3012L700 3014ZM780 3000L850 3000L850 3012L780 3012ZM850 3000L880 2998L880 3010L850 3012ZM880 2998L896.5 2990.5L896.5 3002.5L880 3010ZM890.5 2996.5L900.5 2966.5L912.5 2966.5L902.5 2996.5ZM912.5 2966.5L924.5 3002L912.5 3002L900.5 2966.5ZM918.5 2996L928.6 2990L928.6 3002L918.5 3008ZM928.6 2990L936.6 2984L936.6 2996L928.6 3002ZM942.6 2990L952.6 3003L940.6 3003L930.6 2990ZM946.6 2997L964.7 2999L964.7 3011L946.6 3009ZM958.7 3005L969 2990L981 2990L970.7 3005ZM975 2984L986.7 2972.5L986.7 2984.5L975 2996ZM986.7 2972.5L994.7 2974.5L994.7 2986.5L986.7 2984.5ZM988.7 2980.5L994.8 2960L1006.8 2960L1000.7 2980.5ZM1000.8 2954L1004.8 2950.4L1004.8 2962.4L1000.8 2966ZM1004.8 2950.4L1012.8 2954.5L1012.8 2966.5L1004.8 2962.4ZM1018.8 2960.5L1022.8 2980.5L1010.8 2980.5L1006.8 2960.5ZM1022.8 2980.5L1025 2988.6L1013 2988.6L1010.8 2980.5ZM1019 2982.6L1028 2976.6L1028 2988.6L1019 2994.6ZM1028 2976.6L1037 2978L1037 2990L1028 2988.6ZM1037 2978L1046 2985.6L1046 2997.6L1037 2990ZM1046 2985.6L1061 2987.1L1061 2999.1L1046 2997.6ZM1055 2993.1L1064.1 2982.6L1076.1 2982.6L1067 2993.1ZM1064.1 2982.6L1073.1 2910.4L1085.1 2910.4L1076.1 2982.6ZM1073.1 2910.4L1077.6 2850.2L1089.6 2850.2L1085.1 2910.4ZM1077.6 2850.2L1081.5 2829.8L1093.5 2829.8L1089.6 2850.2ZM1093.5 2829.8L1097.1 2880.3L1085.1 2880.3L1081.5 2829.8ZM1097.1 2880.3L1100.1 2940.5L1088.1 2940.5L1085.1 2880.3ZM1100.1 2940.5L1102.5 2959.8L1090.5 2959.8L1088.1 2940.5ZM1096.5 2953.8L1104.6 2961.9L1104.6 2973.9L1096.5 2965.8ZM1110.6 2967.9L1116 2984L1104 2984L1098.6 2967.9ZM1116 2984L1124 2994.8L1112 2994.8L1104 2984ZM1118 2988.8L1126.1 2992.8L1126.1 3004.8L1118 3000.8ZM1126.1 2992.8L1136.9 2987.4L1136.9 2999.4L1126.1 3004.8ZM1130.9 2993.4L1137.6 2974.6L1149.6 2974.6L1142.9 2993.4ZM1143.6 2968.6L1153 2975.3L1153 2987.3L1143.6 2980.6ZM1147 2981.3L1157.8 2961.7L1169.8 2961.7L1159 2981.3ZM1163.8 2955.7L1174.5 2962L1174.5 2974L1163.8 2967.7ZM1174.5 2962L1182.6 2955.7L1182.6 2967.7L1174.5 2974ZM1188.6 2961.7L1199.4 2982L1187.4 2982L1176.6 2961.7ZM1187.4 2982L1198.2 2965.2L1210.2 2965.2L1199.4 2982ZM1198.2 2965.2L1206.2 2927.5L1218.2 2927.5L1210.2 2965.2ZM1206.2 2927.5L1214.3 2830.6L1226.3 2830.6L1218.2 2927.5ZM1214.3 2830.6L1222.4 2720.8L1234.4 2720.8L1226.3 2830.6ZM1228.4 2714.8L1234 2716L1234 2728L1228.4 2726.8ZM1240 2722L1245.1 2803.8L1233.1 2803.8L1228 2722ZM1233.1 2803.8L1237.3 2671.3L1249.3 2671.3L1245.1 2803.8ZM1237.3 2671.3L1242.6 2600L1254.6 2600L1249.3 2671.3ZM1242.6 2600L1247.4 2283L1259.4 2283L1254.6 2600ZM1247.4 2283L1252.3 2054.6L1264.3 2054.6L1259.4 2283ZM1264.3 2054.6L1270 2130L1258 2130L1252.3 2054.6ZM1270 2130L1272.5 2215L1260.5 2215L1258 2130ZM1272.5 2215L1275 2400L1263 2400L1260.5 2215ZM1275 2400L1278.9 2556L1266.9 2556L1263 2400ZM1266.9 2556L1270 2350L1282 2350L1278.9 2556ZM1270 2350L1276.6 2205.2L1288.6 2205.2L1282 2350ZM1288.6 2205.2L1295.9 2380L1283.9 2380L1276.6 2205.2ZM1295.9 2380L1298.3 2600L1286.3 2600L1283.9 2380ZM1298.3 2600L1301.4 2801.6L1289.4 2801.6L1286.3 2600ZM1301.4 2801.6L1307.9 2814.6L1295.9 2814.6L1289.4 2801.6ZM1307.9 2814.6L1314.4 2888.4L1302.4 2888.4L1295.9 2814.6ZM1314.4 2888.4L1318.8 2929.2L1306.8 2929.2L1302.4 2888.4ZM1306.8 2929.2L1313.3 2886.8L1325.3 2886.8L1318.8 2929.2ZM1325.3 2886.8L1331.8 2910.2L1319.8 2910.2L1313.3 2886.8ZM1331.8 2910.2L1340.5 2953.6L1328.5 2953.6L1319.8 2910.2ZM1340.5 2953.6L1349.2 2973.1L1337.2 2973.1L1328.5 2953.6ZM1343.2 2967.1L1351.8 2969.3L1351.8 2981.3L1343.2 2979.1ZM1345.8 2975.3L1354.5 2962.3L1366.5 2962.3L1357.8 2975.3ZM1354.5 2962.3L1363.2 2917.2L1375.2 2917.2L1366.5 2962.3ZM1375.2 2917.2L1379.5 2963.9L1367.5 2963.9L1363.2 2917.2ZM1367.5 2963.9L1376.2 2949.2L1388.2 2949.2L1379.5 2963.9ZM1376.2 2949.2L1384.9 2845L1396.9 2845L1388.2 2949.2ZM1384.9 2845L1391.4 2627.9L1403.4 2627.9L1396.9 2845ZM1391.4 2627.9L1397.5 2441L1409.5 2441L1403.4 2627.9ZM1409.5 2441L1413.5 2602.8L1401.5 2602.8L1397.5 2441ZM1413.5 2602.8L1417.3 2791.5L1405.3 2791.5L1401.5 2602.8ZM1417.3 2791.5L1424.9 2833.4L1412.9 2833.4L1405.3 2791.5ZM1412.9 2833.4L1424.2 2678.3L1436.2 2678.3L1424.9 2833.4ZM1424.2 2678.3L1429.8 2489.6L1441.8 2489.6L1436.2 2678.3ZM1429.8 2489.6L1433.6 2301L1445.6 2301L1441.8 2489.6ZM1433.6 2301L1438.5 2201L1450.5 2201L1445.6 2301ZM1450.5 2201L1455.1 2376.4L1443.1 2376.4L1438.5 2201ZM1455.1 2376.4L1458.8 2602.8L1446.8 2602.8L1443.1 2376.4ZM1458.8 2602.8L1462.6 2791.5L1450.6 2791.5L1446.8 2602.8ZM1462.6 2791.5L1468.3 2867L1456.3 2867L1450.6 2791.5ZM1468.3 2867L1473.9 2923.6L1461.9 2923.6L1456.3 2867ZM1473.9 2923.6L1479.6 2951.8L1467.6 2951.8L1461.9 2923.6ZM1467.6 2951.8L1475.1 2904.7L1487.1 2904.7L1479.6 2951.8ZM1475.1 2904.7L1482.7 2848.1L1494.7 2848.1L1487.1 2904.7ZM1482.7 2848.1L1486.5 2833L1498.5 2833L1494.7 2848.1ZM1498.5 2833L1502.2 2848.1L1490.2 2848.1L1486.5 2833ZM1502.2 2848.1L1507.9 2923.6L1495.9 2923.6L1490.2 2848.1ZM1507.9 2923.6L1515.4 2972.6L1503.4 2972.6L1495.9 2923.6ZM1515.4 2972.6L1526.8 2993L1514.8 2993L1503.4 2972.6ZM1520.8 2987L1532.1 2985.5L1532.1 2997.5L1520.8 2999ZM1526.1 2991.5L1533.6 2972.6L1545.6 2972.6L1538.1 2991.5ZM1533.6 2972.6L1541.2 2942.5L1553.2 2942.5L1545.6 2972.6ZM1547.2 2936.5L1558.5 2936.5L1558.5 2948.5L1547.2 2948.5ZM1564.5 2942.5L1575 2972L1563 2972L1552.5 2942.5ZM1563 2972L1567.6 2934.9L1579.6 2934.9L1575 2972ZM1573.6 2928.9L1584.9 2917.6L1584.9 2929.6L1573.6 2940.9ZM1578.9 2923.6L1584.6 2897.2L1596.6 2897.2L1590.9 2923.6ZM1584.6 2897.2L1590.2 2829.3L1602.2 2829.3L1596.6 2897.2ZM1590.2 2829.3L1598 2772.8L1610 2772.8L1602.2 2829.3ZM1610 2772.8L1616.8 2857.5L1604.8 2857.5L1598 2772.8ZM1616.8 2857.5L1620.8 2924.8L1608.8 2924.8L1604.8 2857.5ZM1620.8 2924.8L1626 2965L1614 2965L1608.8 2924.8ZM1626 2965L1633 2980L1621 2980L1614 2965ZM1627 2974L1635 2969L1635 2981L1627 2986ZM1629 2975L1637 2965L1649 2965L1641 2975ZM1637 2965L1646 2945L1658 2945L1649 2965ZM1646 2945L1652 2900L1664 2900L1658 2945ZM1652 2900L1656 2830L1668 2830L1664 2900ZM1656 2830L1660 2788L1672 2788L1668 2830ZM1672 2788L1678 2815L1666 2815L1660 2788ZM1672 2809L1678 2806L1678 2818L1672 2821ZM1672 2812L1675.8 2800L1687.8 2800L1684 2812ZM1675.8 2800L1679.1 2700L1691.1 2700L1687.8 2800ZM1679.1 2700L1680.6 2600L1692.6 2600L1691.1 2700ZM1680.6 2600L1684.5 2124L1696.5 2124L1692.6 2600ZM1696.5 2124L1699 2300L1687 2300L1684.5 2124ZM1699 2300L1701 2600L1689 2600L1687 2300ZM1701 2600L1703 2763L1691 2763L1689 2600ZM1703 2763L1709 2860L1697 2860L1691 2763ZM1709 2860L1714 2905L1702 2905L1697 2860ZM1714 2905L1720 2936L1708 2936L1702 2905ZM1708 2936L1716 2905L1728 2905L1720 2936ZM1716 2905L1723 2880L1735 2880L1728 2905ZM1723 2880L1728.6 2868.3L1740.6 2868.3L1735 2880ZM1740.6 2868.3L1748 2900L1736 2900L1728.6 2868.3ZM1748 2900L1754 2935L1742 2935L1736 2900ZM1754 2935L1759.4 2957.1L1747.4 2957.1L1742 2935ZM1747.4 2957.1L1754 2900L1766 2900L1759.4 2957.1ZM1754 2900L1760 2820L1772 2820L1766 2900ZM1760 2820L1769 2696L1781 2696L1772 2820ZM1769 2696L1777 2572L1789 2572L1781 2696ZM1789 2572L1794.4 2712L1782.4 2712L1777 2572ZM1782.4 2712L1791.8 2552L1803.8 2552L1794.4 2712ZM1803.8 2552L1810.5 2669L1798.5 2669L1791.8 2552ZM1810.5 2669L1815.9 2803.7L1803.9 2803.7L1798.5 2669ZM1815.9 2803.7L1821.3 2884.4L1809.3 2884.4L1803.9 2803.7ZM1821.3 2884.4L1824 2935.6L1812 2935.6L1809.3 2884.4ZM1812 2935.6L1817 2900L1829 2900L1824 2935.6ZM1817 2900L1822.8 2830.6L1834.8 2830.6L1829 2900ZM1822.8 2830.6L1828.2 2615.3L1840.2 2615.3L1834.8 2830.6ZM1828.2 2615.3L1832.2 2453.8L1844.2 2453.8L1840.2 2615.3ZM1832.2 2453.8L1835.2 2296L1847.2 2296L1844.2 2453.8ZM1847.2 2296L1853 2550L1841 2550L1835.2 2296ZM1853 2550L1859 2774.2L1847 2774.2L1841 2550ZM1847 2774.2L1852 2650L1864 2650L1859 2774.2ZM1852 2650L1857.8 2511.7L1869.8 2511.7L1864 2650ZM1869.8 2511.7L1877.8 2669.1L1865.8 2669.1L1857.8 2511.7ZM1877.8 2669.1L1883.2 2803.7L1871.2 2803.7L1865.8 2669.1ZM1883.2 2803.7L1891.3 2911.4L1879.3 2911.4L1871.2 2803.7ZM1891.3 2911.4L1899.4 2959.8L1887.4 2959.8L1879.3 2911.4ZM1899.4 2959.8L1907.4 2976L1895.4 2976L1887.4 2959.8ZM1901.4 2970L1910.5 2978L1910.5 2990L1901.4 2982Z" fill="#000000" shape-rendering="crispEdges"/>
<path d="M333.5 3004L600 3003L600 3015L333.5 3016ZM600 3003L700 3000L700 3012L600 3015ZM700 3000L742.3 2994.6L742.3 3006.6L700 3012ZM742.3 2994.6L751.3 2991.6L751.3 3003.6L742.3 3006.6ZM751.3 2991.6L760.3 2994.6L760.3 3006.6L751.3 3003.6ZM760.3 2994.6L778.3 2987.1L778.3 2999.1L760.3 3006.6ZM778.3 2987.1L790.4 2993.1L790.4 3005.1L778.3 2999.1ZM790.4 2993.1L814.4 2987.1L814.4 2999.1L790.4 3005.1ZM814.4 2987.1L826.5 2991.6L826.5 3003.6L814.4 2999.1ZM826.5 2991.6L844.5 2987.1L844.5 2999.1L826.5 3003.6ZM844.5 2987.1L856.5 2991.6L856.5 3003.6L844.5 2999.1ZM856.5 2991.6L868.6 2985.6L868.6 2997.6L856.5 3003.6ZM868.6 2985.6L886.6 2991.6L886.6 3003.6L868.6 2997.6ZM886.6 2991.6L898.6 2987.1L898.6 2999.1L886.6 3003.6ZM898.6 2987.1L910.7 2993.1L910.7 3005.1L898.6 2999.1ZM910.7 2993.1L925.7 2988.6L925.7 3000.6L910.7 3005.1ZM925.7 2988.6L940.8 2991.6L940.8 3003.6L925.7 3000.6ZM940.8 2991.6L955.8 2993.1L955.8 3005.1L940.8 3003.6ZM955.8 2993.1L973.8 2984.1L973.8 2996.1L955.8 3005.1ZM973.8 2984.1L985.9 2991.6L985.9 3003.6L973.8 2996.1ZM985.9 2991.6L1000.9 2987.1L1000.9 2999.1L985.9 3003.6ZM1000.9 2987.1L1019 2991.6L1019 3003.6L1000.9 2999.1ZM1019 2991.6L1034 2988.6L1034 3000.6L1019 3003.6ZM1034 2988.6L1049 2991.6L1049 3003.6L1034 3000.6ZM1049 2991.6L1067.1 2988.6L1067.1 3000.6L1049 3003.6ZM1067.1 2988.6L1085.1 2993.1L1085.1 3005.1L1067.1 3000.6ZM1085.1 2993.1L1103.2 2985.6L1103.2 2997.6L1085.1 3005.1ZM1103.2 2985.6L1121.7 2984.5L1121.7 2996.5L1103.2 2997.6ZM1121.7 2984.5L1143.4 2978L1143.4 2990L1121.7 2996.5ZM1143.4 2978L1169.5 2969.3L1169.5 2981.3L1143.4 2990ZM1175.5 2975.3L1188.5 2992.6L1176.5 2992.6L1163.5 2975.3ZM1182.5 2986.6L1204.2 2980.1L1204.2 2992.1L1182.5 2998.6ZM1204.2 2980.1L1221.6 2966L1221.6 2978L1204.2 2992.1ZM1227.6 2972L1240 2987L1228 2987L1215.6 2972ZM1234 2981L1250 2967L1250 2979L1234 2993ZM1250 2967L1266 2952L1266 2964L1250 2979ZM1272 2958L1283 2977L1271 2977L1260 2958ZM1277 2971L1290 2968L1290 2980L1277 2983ZM1284 2974L1293.7 2951.9L1305.7 2951.9L1296 2974ZM1305.7 2951.9L1314.4 2975.3L1302.4 2975.3L1293.7 2951.9ZM1308.4 2969.3L1325.8 2973.6L1325.8 2985.6L1308.4 2981.3ZM1319.8 2979.6L1330.6 2968.7L1342.6 2968.7L1331.8 2979.6ZM1330.6 2968.7L1337 2935L1349 2935L1342.6 2968.7ZM1337 2935L1343.2 2912L1355.2 2912L1349 2935ZM1349.2 2906L1355 2909L1355 2921L1349.2 2918ZM1349 2915L1356.7 2896.5L1368.7 2896.5L1361 2915ZM1368.7 2896.5L1376.7 2957L1364.7 2957L1356.7 2896.5ZM1364.7 2957L1370 2935L1382 2935L1376.7 2957ZM1370 2935L1375.5 2917L1387.5 2917L1382 2935ZM1381.5 2911L1390 2919L1390 2931L1381.5 2923ZM1390 2919L1397.7 2924L1397.7 2936L1390 2931ZM1391.7 2930L1397.8 2919.8L1409.8 2919.8L1403.7 2930ZM1397.8 2919.8L1403.4 2821.7L1415.4 2821.7L1409.8 2919.8ZM1403.4 2821.7L1410 2740L1422 2740L1415.4 2821.7ZM1410 2740L1416.6 2693.4L1428.6 2693.4L1422 2740ZM1428.6 2693.4L1434.3 2848L1422.3 2848L1416.6 2693.4ZM1422.3 2848L1429 2790L1441 2790L1434.3 2848ZM1429 2790L1436.3 2661.4L1448.3 2661.4L1441 2790ZM1448.3 2661.4L1453.2 2791.5L1441.2 2791.5L1436.3 2661.4ZM1453.2 2791.5L1462.6 2810.4L1450.6 2810.4L1441.2 2791.5ZM1462.6 2810.4L1470.2 2880.2L1458.2 2880.2L1450.6 2810.4ZM1458.2 2880.2L1465.7 2829.3L1477.7 2829.3L1470.2 2880.2ZM1465.7 2829.3L1469.5 2716L1481.5 2716L1477.7 2829.3ZM1469.5 2716L1473.2 2489.6L1485.2 2489.6L1481.5 2716ZM1473.2 2489.6L1477 2301L1489 2301L1485.2 2489.6ZM1477 2301L1482.3 2197.2L1494.3 2197.2L1489 2301ZM1494.3 2197.2L1498.5 2376.4L1486.5 2376.4L1482.3 2197.2ZM1498.5 2376.4L1502.2 2602.8L1490.2 2602.8L1486.5 2376.4ZM1502.2 2602.8L1506 2657.9L1494 2657.9L1490.2 2602.8ZM1494 2657.9L1499.7 2616L1511.7 2616L1506 2657.9ZM1511.7 2616L1515.4 2704.7L1503.4 2704.7L1499.7 2616ZM1509.4 2698.7L1517 2702.5L1517 2714.5L1509.4 2710.7ZM1523 2708.5L1526.8 2829.3L1514.8 2829.3L1511 2708.5ZM1526.8 2829.3L1532.4 2844.3L1520.4 2844.3L1514.8 2829.3ZM1520.4 2844.3L1526.1 2716L1538.1 2716L1532.4 2844.3ZM1526.1 2716L1530.6 2685.9L1542.6 2685.9L1538.1 2716ZM1542.6 2685.9L1546.4 2791.5L1534.4 2791.5L1530.6 2685.9ZM1546.4 2791.5L1549.4 2904.7L1537.4 2904.7L1534.4 2791.5ZM1549.4 2904.7L1556.9 2968.9L1544.9 2968.9L1537.4 2904.7ZM1556.9 2968.9L1568.3 2984L1556.3 2984L1544.9 2968.9ZM1562.3 2978L1573.6 2983.6L1573.6 2995.6L1562.3 2990ZM1573.6 2983.6L1581.1 2978L1581.1 2990L1573.6 2995.6ZM1581.1 2978L1592.5 2985.5L1592.5 2997.5L1581.1 2990ZM1586.5 2991.5L1597.8 2980.2L1609.8 2980.2L1598.5 2991.5ZM1597.8 2980.2L1603.4 2923.5L1615.4 2923.5L1609.8 2980.2ZM1615.4 2923.5L1620 2935L1608 2935L1603.4 2923.5ZM1620 2935L1626 2958L1614 2958L1608 2935ZM1626 2958L1632.9 2971.9L1620.9 2971.9L1614 2958ZM1620.9 2971.9L1631.7 2949L1643.7 2949L1632.9 2971.9ZM1631.7 2949L1639 2925L1651 2925L1643.7 2949ZM1639 2925L1643.8 2857.5L1655.8 2857.5L1651 2925ZM1643.8 2857.5L1646.5 2760L1658.5 2760L1655.8 2857.5ZM1646.5 2760L1650.5 2745.8L1662.5 2745.8L1658.5 2760ZM1662.5 2745.8L1667 2775L1655 2775L1650.5 2745.8ZM1667 2775L1670 2830L1658 2830L1655 2775ZM1670 2830L1674.6 2869.6L1662.6 2869.6L1658 2830ZM1662.6 2869.6L1666 2760L1678 2760L1674.6 2869.6ZM1666 2760L1670 2500L1682 2500L1678 2760ZM1670 2500L1673.7 2223.5L1685.7 2223.5L1682 2500ZM1673.7 2223.5L1681.6 1831.6L1693.6 1831.6L1685.7 2223.5ZM1693.6 1831.6L1698.9 2117.6L1686.9 2117.6L1681.6 1831.6ZM1698.9 2117.6L1701.6 2435.2L1689.6 2435.2L1686.9 2117.6ZM1701.6 2435.2L1702.9 2803.7L1690.9 2803.7L1689.6 2435.2ZM1702.9 2803.7L1711 2857.5L1699 2857.5L1690.9 2803.7ZM1711 2857.5L1719 2884.4L1707 2884.4L1699 2857.5ZM1719 2884.4L1727.1 2902L1715.1 2902L1707 2884.4ZM1715.1 2902L1721 2800L1733 2800L1727.1 2902ZM1721 2800L1727 2600L1739 2600L1733 2800ZM1727 2600L1732.6 2459.2L1744.6 2459.2L1739 2600ZM1744.6 2459.2L1749 2600L1737 2600L1732.6 2459.2ZM1749 2600L1754 2760L1742 2760L1737 2600ZM1754 2760L1759 2870L1747 2870L1742 2760ZM1759 2870L1764.8 2911.4L1752.8 2911.4L1747 2870ZM1752.8 2911.4L1757 2820L1769 2820L1764.8 2911.4ZM1757 2820L1762 2680L1774 2680L1769 2820ZM1762 2680L1768.9 2538.6L1780.9 2538.6L1774 2680ZM1780.9 2538.6L1786.3 2642.2L1774.3 2642.2L1768.9 2538.6ZM1786.3 2642.2L1791.7 2803.7L1779.7 2803.7L1774.3 2642.2ZM1791.7 2803.7L1799.8 2884.4L1787.8 2884.4L1779.7 2803.7ZM1799.8 2884.4L1810.5 2938.3L1798.5 2938.3L1787.8 2884.4ZM1810.5 2938.3L1821.3 2970.6L1809.3 2970.6L1798.5 2938.3ZM1821.3 2970.6L1834.8 2992.8L1822.8 2992.8L1809.3 2970.6ZM1828.8 2986.8L1842.2 2980.7L1842.2 2992.7L1828.8 2998.8ZM1836.2 2986.7L1844 2975L1856 2975L1848.2 2986.7ZM1844 2975L1852.4 2938.3L1864.4 2938.3L1856 2975ZM1852.4 2938.3L1857.8 2857.5L1869.8 2857.5L1864.4 2938.3ZM1857.8 2857.5L1863.1 2814.5L1875.1 2814.5L1869.8 2857.5ZM1875.1 2814.5L1880.5 2857.5L1868.5 2857.5L1863.1 2814.5ZM1880.5 2857.5L1885.9 2924.8L1873.9 2924.8L1868.5 2857.5ZM1885.9 2924.8L1894 2970.6L1882 2970.6L1873.9 2924.8ZM1894 2970.6L1902 2989.4L1890 2989.4L1882 2970.6ZM1896 2983.4L1906.8 2986.1L1906.8 2998.1L1896 2995.4ZM1906.8 2986.1L1910.5 2987L1910.5 2999L1906.8 2998.1Z" fill="#ff00ff" shape-rendering="crispEdges"/>
</g>
<rect x="333.5" y="1748.4" width="1577.0" height="1262.1999999999998" fill="none" stroke="#000" stroke-width="4.8" stroke-linejoin="round"/>
<text x="289" y="3037.1" font-size="80" text-anchor="end" >0</text>
<text x="289" y="2784.7" font-size="80" text-anchor="end" >0.5</text>
<text x="289" y="2532.2" font-size="80" text-anchor="end" >1</text>
<text x="289" y="2279.8" font-size="80" text-anchor="end" >1.5</text>
<text x="289" y="2027.3" font-size="80" text-anchor="end" >2</text>
<text x="289" y="1774.9" font-size="80" text-anchor="end" >2.5</text>
<text x="343.5" y="3112.5" font-size="80" text-anchor="middle" >0</text>
<text x="553.8" y="3112.5" font-size="80" text-anchor="middle" >2</text>
<text x="764" y="3112.5" font-size="80" text-anchor="middle" >4</text>
<text x="974.3" y="3112.5" font-size="80" text-anchor="middle" >6</text>
<text x="1184.6" y="3112.5" font-size="80" text-anchor="middle" >8</text>
<text x="1394.8" y="3112.5" font-size="80" text-anchor="middle" >10</text>
<text x="1605.1" y="3112.5" font-size="80" text-anchor="middle" >12</text>
<text x="1815.4" y="3112.5" font-size="80" text-anchor="middle" >14</text>
<text x="1974" y="2855.8" font-size="80" text-anchor="start" >0.01</text>
<text x="1974" y="2495.2" font-size="80" text-anchor="start" >0.03</text>
<text x="1974" y="2134.5" font-size="80" text-anchor="start" >0.05</text>
<text x="1974" y="1773.9" font-size="80" text-anchor="start" >0.07</text>
<text transform="translate(719.26 3232.5) scale(0.9909 1)" font-size="78" xml:space="preserve">Photon energy, ħ<tspan font-family='"Liberation Serif", "Times New Roman", serif' font-weight="bold">ω</tspan> (eV)</text>
<text transform="translate(128 2885.53) rotate(-90) scale(0.9898 1)" font-size="78" xml:space="preserve">Im(<tspan font-family='"Liberation Serif", "Times New Roman", serif'>ε</tspan>), <tspan font-family='"Liberation Serif", "Times New Roman", serif'>ε</tspan><tspan font-size="64" dy="22">2</tspan><tspan dy="-22"> in−plane polarization</tspan></text>
<text transform="translate(2198 2963.53) rotate(-90) scale(0.9895 1)" font-size="78" xml:space="preserve">Im(<tspan font-family='"Liberation Serif", "Times New Roman", serif'>ε</tspan>), <tspan font-family='"Liberation Serif", "Times New Roman", serif'>ε</tspan><tspan font-size="64" dy="22">2</tspan><tspan dy="-22"> out−of−plane polarization</tspan></text>
<text x="366" y="1837.4" font-size="77.5" text-anchor="start" >(b)</text>
<text class="lg" transform="translate(1124.35 150.9) scale(0.9652 1)" font-size="56" xml:space="preserve">Hex−C<tspan font-size="44.8" dy="16.3">42</tspan><tspan dy="-16.3">H</tspan><tspan font-size="44.8" dy="16.3">18</tspan><tspan dy="-16.3"> in−plane</tspan></text>
<text class="lg" transform="translate(863.75 1811.8) scale(0.9652 1)" font-size="56" xml:space="preserve">Hex−C<tspan font-size="44.8" dy="16.3">42</tspan><tspan dy="-16.3">H</tspan><tspan font-size="44.8" dy="16.3">18</tspan><tspan dy="-16.3"> in−plane</tspan></text>
<text class="lg" transform="translate(1134.03 204.8) scale(0.9674 1)" font-size="56" xml:space="preserve">Tri−C<tspan font-size="44.8" dy="16.3">168</tspan><tspan dy="-16.3">H</tspan><tspan font-size="44.8" dy="16.3">42</tspan><tspan dy="-16.3"> in−plane</tspan></text>
<text class="lg" transform="translate(873.43 1865.7) scale(0.9674 1)" font-size="56" xml:space="preserve">Tri−C<tspan font-size="44.8" dy="16.3">168</tspan><tspan dy="-16.3">H</tspan><tspan font-size="44.8" dy="16.3">42</tspan><tspan dy="-16.3"> in−plane</tspan></text>
<text class="lg" transform="translate(1015.58 258.7) scale(0.9637 1)" font-size="56" xml:space="preserve">Hex−C<tspan font-size="44.8" dy="16.3">42</tspan><tspan dy="-16.3">H</tspan><tspan font-size="44.8" dy="16.3">18</tspan><tspan dy="-16.3"> out−of−plane</tspan></text>
<text class="lg" transform="translate(754.98 1919.6) scale(0.9637 1)" font-size="56" xml:space="preserve">Hex−C<tspan font-size="44.8" dy="16.3">42</tspan><tspan dy="-16.3">H</tspan><tspan font-size="44.8" dy="16.3">18</tspan><tspan dy="-16.3"> out−of−plane</tspan></text>
<text class="lg" transform="translate(1024.64 312.2) scale(0.9673 1)" font-size="56" xml:space="preserve">Tri−C<tspan font-size="44.8" dy="16.3">168</tspan><tspan dy="-16.3">H</tspan><tspan font-size="44.8" dy="16.3">42</tspan><tspan dy="-16.3"> out−of−plane</tspan></text>
<text class="lg" transform="translate(764.04 1973.1) scale(0.9673 1)" font-size="56" xml:space="preserve">Tri−C<tspan font-size="44.8" dy="16.3">168</tspan><tspan dy="-16.3">H</tspan><tspan font-size="44.8" dy="16.3">42</tspan><tspan dy="-16.3"> out−of−plane</tspan></text>
<line x1="1678" y1="137.9" x2="1832" y2="137.9" stroke="#0000ff" stroke-width="12"/>
<line x1="1678" y1="191.8" x2="1832" y2="191.8" stroke="#ff0000" stroke-width="12"/>
<line x1="1678" y1="245.8" x2="1832" y2="245.8" stroke="#000000" stroke-width="12"/>
<line x1="1678" y1="299.6" x2="1832" y2="299.6" stroke="#ff00ff" stroke-width="12"/>
<line x1="1416" y1="1799.3" x2="1571" y2="1799.3" stroke="#0000ff" stroke-width="12"/>
<line x1="1416" y1="1853" x2="1571" y2="1853" stroke="#ff0000" stroke-width="12"/>
<line x1="1416" y1="1907" x2="1571" y2="1907" stroke="#000000" stroke-width="12"/>
<line x1="1416" y1="1960.9" x2="1571" y2="1960.9" stroke="#ff00ff" stroke-width="12"/>
<path d="M460 465.5L353 465.5M384 456.5L353 465.5L384 474.5" stroke="#000" stroke-width="4.6" fill="none" stroke-linejoin="bevel" stroke-linecap="butt"/>
<path d="M649 666.8L543 666.8M574 657.8L543 666.8L574 675.8" stroke="#000" stroke-width="4.6" fill="none" stroke-linejoin="bevel" stroke-linecap="butt"/>
<path d="M1280 541L1385 541M1354 532L1385 541L1354 550" stroke="#000" stroke-width="4.6" fill="none" stroke-linejoin="bevel" stroke-linecap="butt"/>
<path d="M1701 490L1806 490M1775 481L1806 490L1775 499" stroke="#000" stroke-width="4.6" fill="none" stroke-linejoin="bevel" stroke-linecap="butt"/>
<path d="M460 2127L353 2127M384 2118L353 2127L384 2136" stroke="#000" stroke-width="4.6" fill="none" stroke-linejoin="bevel" stroke-linecap="butt"/>
<path d="M649 2732L543 2732M574 2723L543 2732L574 2741" stroke="#000" stroke-width="4.6" fill="none" stroke-linejoin="bevel" stroke-linecap="butt"/>
<path d="M1341.5 2152L1449.4 2152M1418.4 2143L1449.4 2152L1418.4 2161" stroke="#000" stroke-width="4.6" fill="none" stroke-linejoin="bevel" stroke-linecap="butt"/>
<path d="M1720.2 2101.2L1827 2101.2M1796 2092.2L1827 2101.2L1796 2110.2" stroke="#000" stroke-width="4.6" fill="none" stroke-linejoin="bevel" stroke-linecap="butt"/>
</svg></body></html>
